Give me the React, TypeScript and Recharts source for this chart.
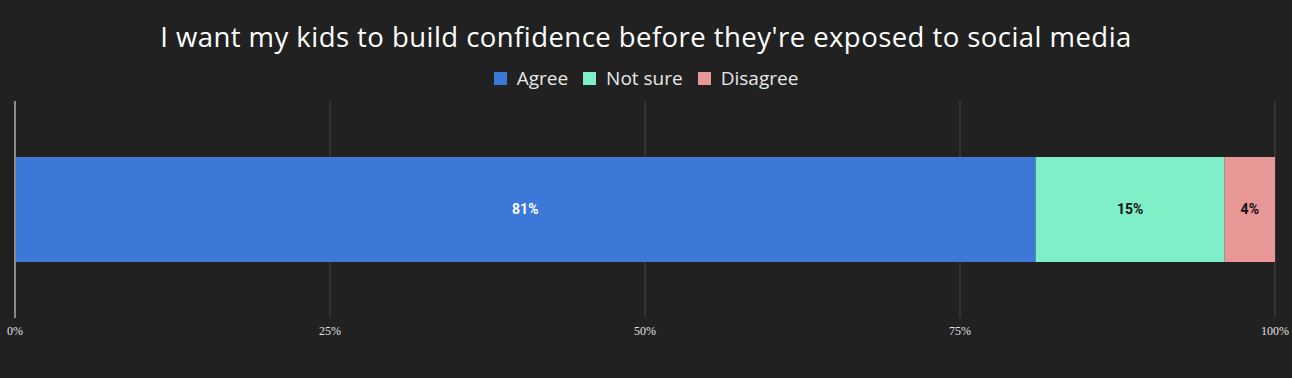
import React from "react";
import {
  BarChart,
  Bar,
  XAxis,
  YAxis,
  CartesianGrid,
  ReferenceLine,
  LabelList,
} from "recharts";

const TITLE = "I want my kids to build confidence before they're exposed to social media";
const categories = ["Kids confidence"];
const seriesNames = ["Agree", "Not sure", "Disagree"];
const agreeValues = [81];
const notSureValues = [15];
const disagreeValues = [4];
const xTicks = [0, 25, 50, 75, 100];

const colors = ["#3c78d8", "#7fefc7", "#e99696"];
const labelColors = ["#ffffff", "#111111", "#111111"];
const keys = ["agree", "notSure", "disagree"];

const data = categories.map((c, i) => ({
  name: c,
  agree: agreeValues[i],
  notSure: notSureValues[i],
  disagree: disagreeValues[i],
}));

const LegendBlock = () => (
  <div
    style={{
      position: "absolute",
      top: 65,
      left: 0,
      width: 1292,
      display: "flex",
      justifyContent: "center",
      alignItems: "center",
      fontFamily: "'Open Sans', sans-serif",
      fontSize: 19,
      lineHeight: "26px",
      color: "#e8e8e8",
    }}
  >
    {seriesNames.map((n, i) => (
      <div key={n} style={{ display: "flex", alignItems: "center", marginRight: i < 2 ? 15 : 0 }}>
        <span
          style={{
            display: "inline-block",
            width: 13,
            height: 13,
            background: colors[i],
            marginRight: 10,
          }}
        />
        <span>{n}</span>
      </div>
    ))}
  </div>
);

export default function App() {
  return (
    <div
      style={{
        position: "absolute",
        left: 0,
        top: 0,
        width: 1292,
        height: 378,
        background: "#212121",
        overflow: "hidden",
      }}
    >
      <div
        style={{
          position: "absolute",
          top: 18,
          left: 0,
          width: 1292,
          textAlign: "center",
          fontFamily: "'Open Sans', sans-serif",
          fontSize: 27.5,
          letterSpacing: 0.45,
          color: "#ffffff",
          lineHeight: "38px",
        }}
      >
        {TITLE}
      </div>
      <LegendBlock />
      <div style={{ position: "absolute", left: 0, top: 0 }}>
        <BarChart
          width={1292}
          height={378}
          data={data}
          layout="vertical"
          margin={{ top: 101, right: 17, left: 15, bottom: 30 }}
        >
          <CartesianGrid horizontal={false} stroke="#474747" strokeWidth={1} />
          <XAxis
            type="number"
            domain={[0, 100]}
            ticks={xTicks}
            tickFormatter={(v) => `${v}%`}
            axisLine={false}
            tickLine={false}
            interval={0}
            tick={{ fill: "#e0e0e0", fontSize: 12, fontFamily: "'Liberation Serif', serif" }}
            height={30}
          />
          <YAxis type="category" dataKey="name" hide />
          <ReferenceLine x={0} stroke="#8a8a8a" strokeWidth={2} />
          {keys.map((k, i) => (
            <Bar
              key={k}
              dataKey={k}
              name={seriesNames[i]}
              stackId="a"
              fill={colors[i]}
              barSize={105}
              isAnimationActive={false}
            >
              <LabelList
                dataKey={k}
                position="center"
                formatter={(v: number) => `${v}%`}
                fill={labelColors[i]}
                style={{ fontWeight: "bold", fontSize: 14, fontFamily: "Roboto, sans-serif" }}
              />
            </Bar>
          ))}
        </BarChart>
      </div>
    </div>
  );
}
